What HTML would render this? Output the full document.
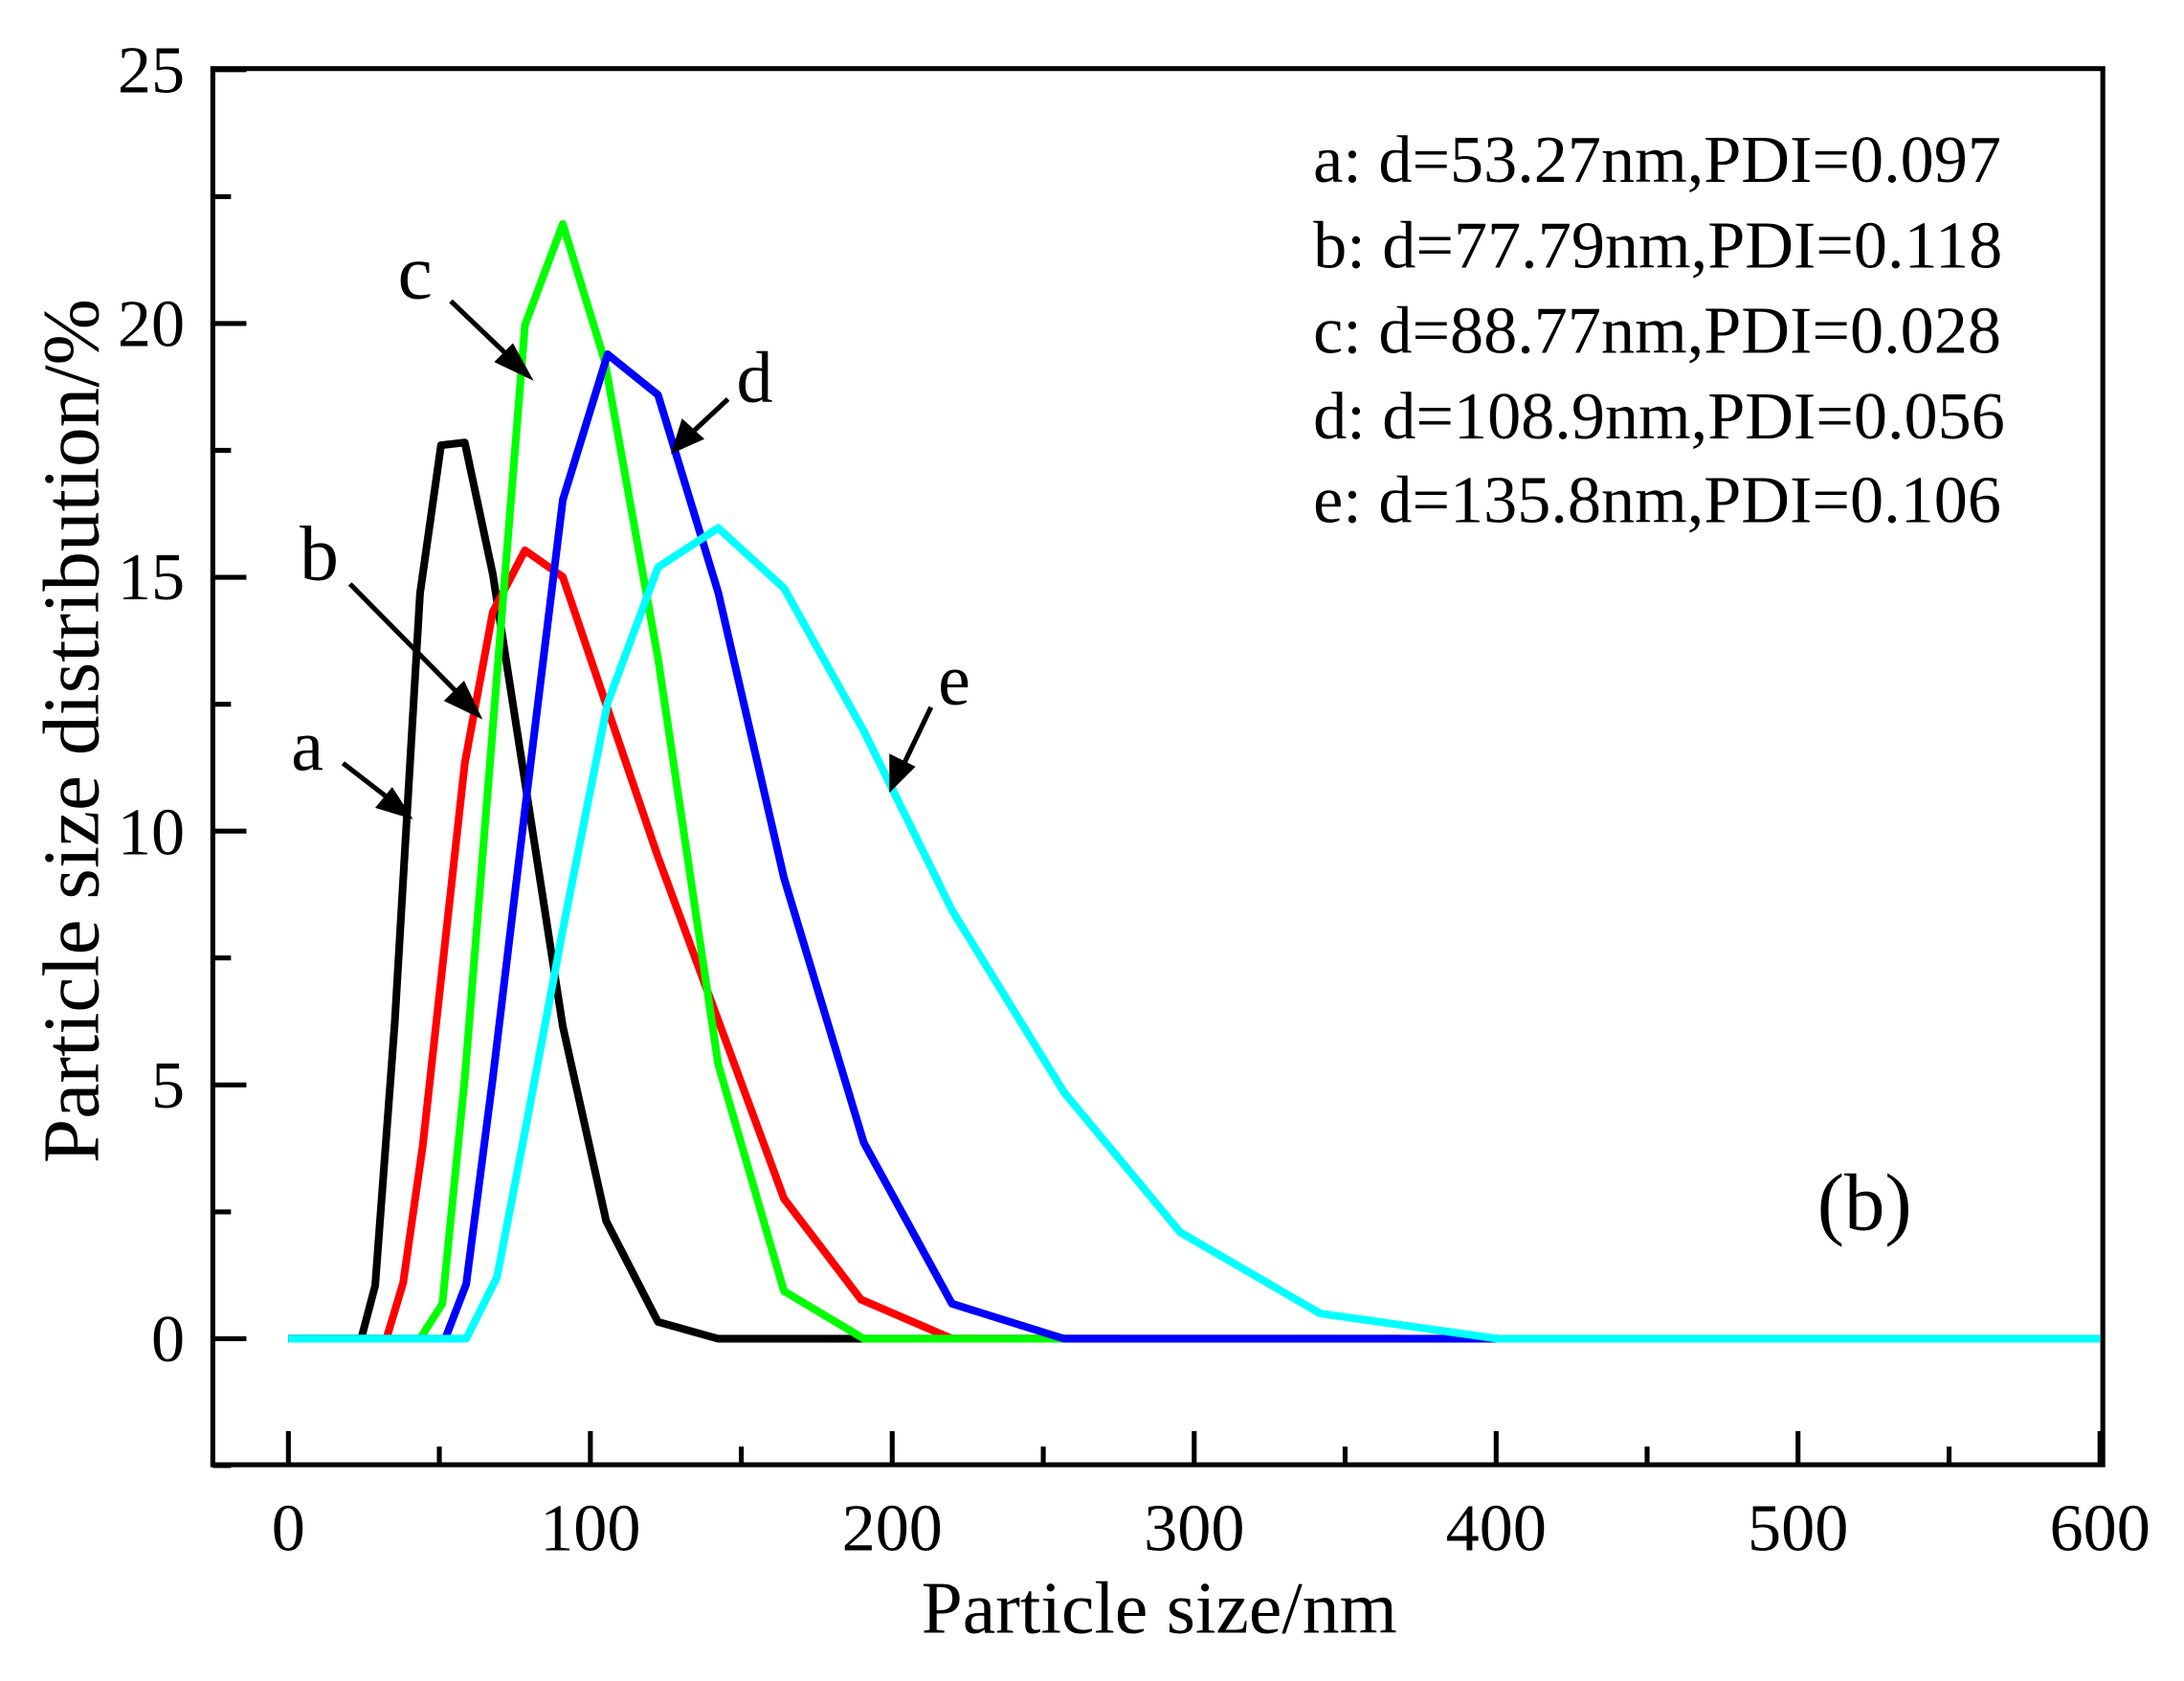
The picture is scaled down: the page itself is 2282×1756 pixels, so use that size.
<!DOCTYPE html>
<html><head><style>html,body{margin:0;padding:0;background:#fff}</style></head>
<body>
<svg xmlns="http://www.w3.org/2000/svg" width="2282" height="1751" viewBox="0 0 1560 1197" font-family="Liberation Serif, serif">
<rect width="1560" height="1197" fill="#fff"/>
<g fill="none" stroke-width="5.5" stroke-linejoin="round">
<polyline stroke="#000" points="206,956 258,956 268,918 282,730 300,424 315,318 332,316 352,410 402,733 433,872 470,944 513,956 1000,956"/>
<polyline stroke="#f00" points="206,956 276,956 288,916 302,818 332,545 352,437 375,393 402,412 470,612 560,856 615,928 680,956 800,956"/>
<polyline stroke="#0f0" points="206,956 300,956 316,931 332,770 375,232 402,160 432,258 470,470 513,760 560,922 617,956 760,956"/>
<polyline stroke="#00f" points="206,956 318,956 333,917 352,770 375,578 402,357 434,253 470,282 513,423 560,627 617,816 680,931 760,956 1070,956"/>
<polyline stroke="#0ff" points="206,956 333,956 355,912 375,808 402,664 434,502 470,405 513,377 560,420 617,522 680,650 760,780 843,880 943,938 1070,956 1500,956"/>
</g>
<g stroke="#000" stroke-width="3.5">
<rect x="152" y="49" width="1350" height="997" fill="none"/>
<path d="M206,1046v-24M421.7,1046v-24M637.3,1046v-24M853,1046v-24M1068.7,1046v-24M1284.3,1046v-24M1500,1046v-24"/>
<path d="M313.8,1046v-13M529.5,1046v-13M745.2,1046v-13M960.8,1046v-13M1176.5,1046v-13M1392.2,1046v-13"/>
<path d="M152,956h24M152,774.75h24M152,593.5h24M152,412.25h24M152,231h24M152,49.75h24"/>
<path d="M152,1046.6h13M152,865.4h13M152,684.1h13M152,502.9h13M152,321.6h13M152,140.4h13"/>
</g>
<g font-size="48" fill="#000">
<g text-anchor="middle">
<text x="206" y="1107">0</text><text x="421.7" y="1107">100</text><text x="637.3" y="1107">200</text><text x="853" y="1107">300</text><text x="1068.7" y="1107">400</text><text x="1284.3" y="1107">500</text><text x="1500" y="1107">600</text>
</g>
<g text-anchor="end">
<text x="132" y="972">0</text><text x="132" y="791">5</text><text x="132" y="610">10</text><text x="132" y="428">15</text><text x="132" y="247">20</text><text x="132" y="66">25</text>
</g>
<text x="828" y="1166" text-anchor="middle" font-size="53">Particle size/nm</text>
<text transform="translate(70,522) rotate(-90)" text-anchor="middle" font-size="57">Particle size distribution/%</text>
<text x="938" y="130">a: d=53.27nm,PDI=0.097</text>
<text x="938" y="191">b: d=77.79nm,PDI=0.118</text>
<text x="938" y="252">c: d=88.77nm,PDI=0.028</text>
<text x="938" y="313">d: d=108.9nm,PDI=0.056</text>
<text x="938" y="373">e: d=135.8nm,PDI=0.106</text>
<text x="1298" y="878" font-size="58">(b)</text>
<text x="284" y="213" font-size="56">c</text>
<text x="526" y="287" font-size="52">d</text>
<text x="214" y="414" font-size="56">b</text>
<text x="208" y="550" font-size="52">a</text>
<text x="670" y="503" font-size="52">e</text>
</g>
<g stroke="#000" stroke-width="3.5" fill="#000">
<line x1="322" y1="215" x2="366" y2="257"/><polygon points="377,268 356,258 366,248"/>
<line x1="520" y1="285" x2="492" y2="311"/><polygon points="482,321 488,302 500,313"/>
<line x1="250" y1="417" x2="330" y2="498"/><polygon points="341,510 320,500 331,489"/>
<line x1="245" y1="545" x2="280" y2="572"/><polygon points="291,582 271,576 280,565"/>
<line x1="665" y1="505" x2="644" y2="549"/><polygon points="637,562 637,541 651,548"/>
</g>
</svg>
</body></html>
